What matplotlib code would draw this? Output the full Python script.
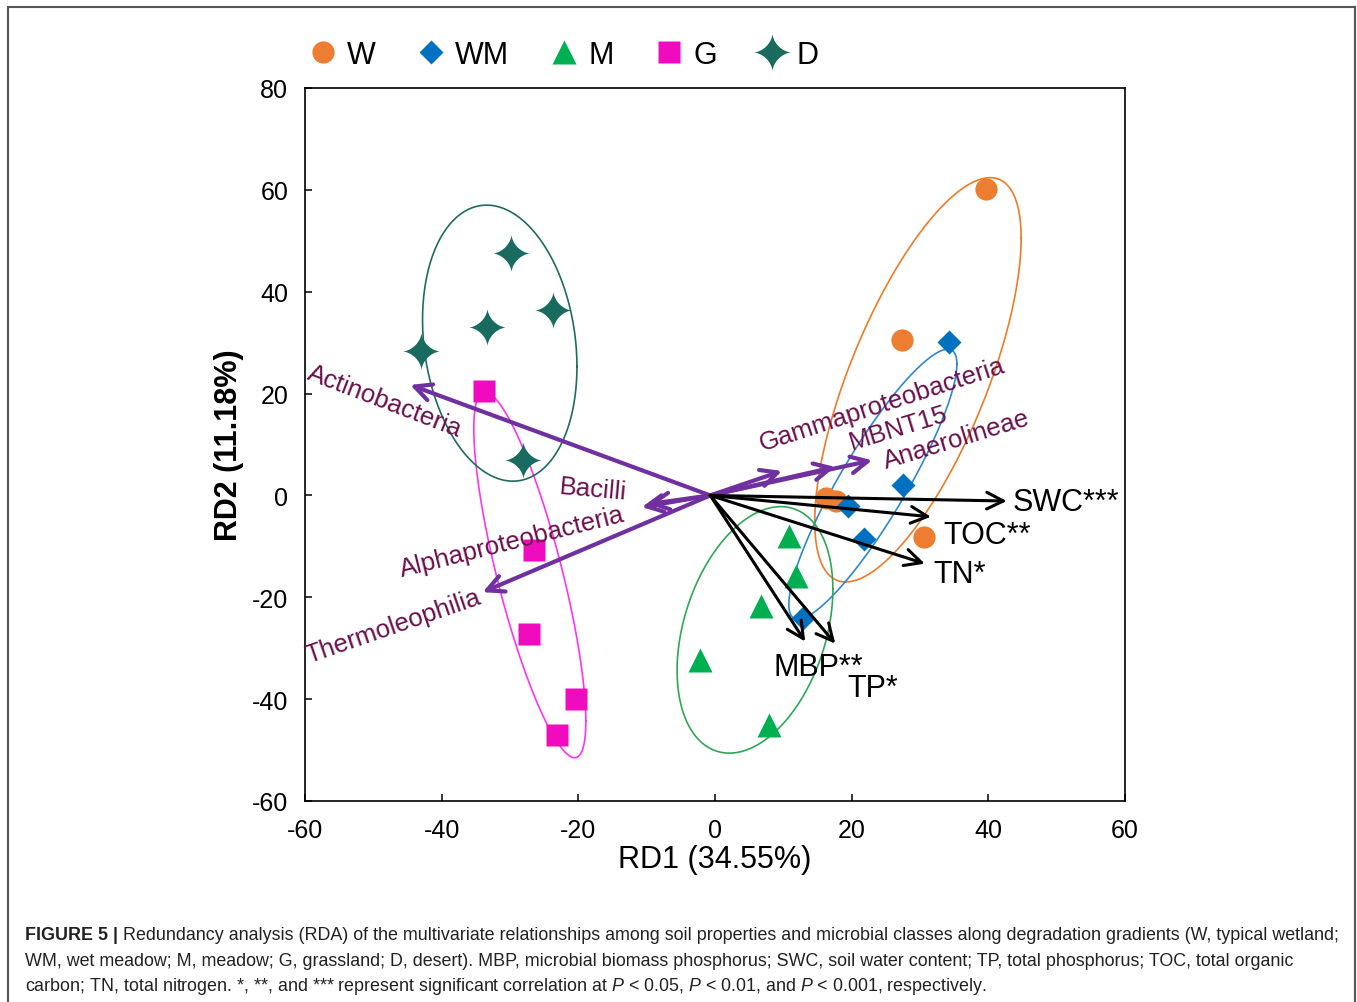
import numpy as np
import matplotlib.pyplot as plt
from matplotlib.path import Path
from matplotlib.patches import FancyArrowPatch, Rectangle
from matplotlib.lines import Line2D

plt.rcParams['font.family'] = ['Liberation Sans', 'DejaVu Sans']
plt.rcParams['mathtext.fontset'] = 'custom'
plt.rcParams['mathtext.rm'] = 'Liberation Sans'
plt.rcParams['mathtext.it'] = 'Liberation Sans:italic'
plt.rcParams['axes.unicode_minus'] = False

# --- sample scores (RD1, RD2) ---
groups = ['W', 'WM', 'M', 'G', 'D']
w_x = [39.7, 27.4, 30.6, 16.2, 17.7]
w_y = [60.2, 30.5, -8.2, -0.5, -1.1]
wm_x = [34.2, 27.5, 19.5, 21.8, 12.9]
wm_y = [30.1, 2.0, -2.1, -8.6, -24.0]
m_x = [10.8, 11.9, 6.7, -2.2, 7.9]
m_y = [-8.0, -15.8, -21.7, -32.3, -45.0]
g_x = [-33.8, -26.5, -27.2, -20.3, -23.1]
g_y = [20.5, -10.7, -27.2, -39.9, -47.0]
d_x = [-29.9, -23.7, -33.4, -43.0, -28.1]
d_y = [47.6, 36.4, 33.1, 28.4, 6.9]

# group ellipses: centre, half extents, correlation (tilt)
ell_cx = [29.7, 23.1, 5.85, -27.1, -31.5]
ell_cy = [22.7, 2.2, -26.4, -15.6, 29.9]
ell_rx = [15.1, 12.3, 11.4, 8.2, 11.3]
ell_ry = [39.7, 26.5, 24.2, 35.9, 27.1]
ell_rho = [0.70, 0.89, 0.33, -0.80, -0.17]

# environmental vectors
soil_names = ['SWC***', 'TOC**', 'TN*', 'MBP**', 'TP*']
soil_x = [42.7, 31.6, 30.7, 13.2, 17.6]
soil_y = [-1.1, -4.2, -13.4, -28.7, -29.1]

# microbial class vectors
class_names = ['Actinobacteria', 'Bacilli', 'Alphaproteobacteria', 'Thermoleophilia',
               'Gammaproteobacteria', 'MBNT15', 'Anaerolineae']
class_x = [-44.6, -10.7, -9.8, -34.0, 9.8, 17.6, 23.0]
class_y = [21.7, -2.3, -1.7, -19.0, 4.8, 5.6, 6.9]
origin = (-0.7, 0.0)

# label placement
soil_lab_pos = [(43.6, -2.9), (33.4, -9.3), (31.9, -17.0), (8.5, -35.3), (19.3, -39.3)]
class_lab_pos = [(-48.3, 18.5), (-17.9, 1.3), (-29.7, -9.1), (-47.1, -25.6),
                 (24.4, 17.9), (26.9, 13.4), (35.4, 11.1)]
class_lab_rot = [-21, -5, 14, 19, 18, 17, 17]

W, H = 1357, 1003
fig = plt.figure(figsize=(W / 100, H / 100), dpi=100)
ax = fig.add_axes([305 / W, 1 - 802 / H, 820 / W, 713 / H])

# 4-point star marker
tt = np.linspace(0, 2 * np.pi, 120)
p = 3.2
star = Path(np.column_stack([np.sign(np.cos(tt)) * np.abs(np.cos(tt)) ** p,
                             np.sign(np.sin(tt)) * np.abs(np.sin(tt)) ** p]))

pts_x = [w_x, wm_x, m_x, g_x, d_x]
pts_y = [w_y, wm_y, m_y, g_y, d_y]
markers = ['o', 'D', '^', 's', star]
msizes = [16, 12, 17, 16, 27]
colors = ['#ED7D31', '#0070C0', '#00B050', '#F00CBE', '#186B5E']
ell_colors = ['#F07A25', '#2E88D0', '#2EA855', '#FF33F0', '#1F6B62']

t = np.linspace(0, 2 * np.pi, 300)
for i in range(len(groups)):
    ex = ell_cx[i] + ell_rx[i] * np.cos(t)
    ey = ell_cy[i] + ell_ry[i] * (ell_rho[i] * np.cos(t) + np.sqrt(1 - ell_rho[i] ** 2) * np.sin(t))
    ax.plot(ex, ey, color=ell_colors[i], lw=1.2, zorder=2)
    ax.plot(pts_x[i], pts_y[i], ls='none', marker=markers[i], ms=msizes[i],
            color=colors[i], mec='none', zorder=3)

for i in range(len(class_names)):
    ax.add_patch(FancyArrowPatch(origin, (class_x[i], class_y[i]),
                                 arrowstyle='->,head_length=0.6,head_width=0.3',
                                 mutation_scale=20, lw=3, color='#7030A0',
                                 shrinkA=0, shrinkB=0, zorder=4))
    ax.text(class_lab_pos[i][0], class_lab_pos[i][1], class_names[i], rotation=class_lab_rot[i],
            rotation_mode='anchor', ha='center', va='center', fontsize=18.5,
            color='#6A0F4B', zorder=6)

for i in range(len(soil_names)):
    ax.add_patch(FancyArrowPatch(origin, (soil_x[i], soil_y[i]),
                                 arrowstyle='->,head_length=0.6,head_width=0.3',
                                 mutation_scale=20, lw=2.2, color='black',
                                 shrinkA=0, shrinkB=0, zorder=5))
    ax.text(soil_lab_pos[i][0], soil_lab_pos[i][1], soil_names[i], ha='left',
            va='baseline', fontsize=22, zorder=6)

ax.set_xlim(-60, 60)
ax.set_ylim(-60, 80)
ax.set_xticks(range(-60, 61, 20))
ax.set_yticks(range(-60, 81, 20))
ax.tick_params(direction='in', length=5, width=1.1, labelsize=18, pad=12)
for s in ax.spines.values():
    s.set_linewidth(1.2)
ax.set_xlabel('RD1 (34.55%)', fontsize=22, labelpad=2)
ax.set_ylabel('RD2 (11.18%)', fontsize=22, fontweight='bold', labelpad=6)

handles = [Line2D([], [], ls='none', marker=markers[i], ms=msizes[i], color=colors[i], mec='none')
           for i in range(len(groups))]
fig.legend(handles, groups, loc='center', bbox_to_anchor=(563 / W, 1 - 56 / H), ncol=5,
           frameon=False, fontsize=22, handlelength=1.0, handletextpad=0.3, columnspacing=1.3)

# outer frame
fig.add_artist(Rectangle((8 / W, -0.02), 1347 / W, 1.02 - 8 / H, transform=fig.transFigure,
                         fill=False, ec='#555555', lw=1.5))

# caption
line1 = ' Redundancy analysis (RDA) of the multivariate relationships among soil properties and microbial classes along degradation gradients (W, typical wetland;'
line2 = 'WM, wet meadow; M, meadow; G, grassland; D, desert). MBP, microbial biomass phosphorus; SWC, soil water content; TP, total phosphorus; TOC, total organic'
line3 = (r'carbon; TN, total nitrogen. *, **, and *** represent significant correlation at '
         r'$\mathit{P}$ < 0.05, $\mathit{P}$ < 0.01, and $\mathit{P}$ < 0.001, respectively.')
fs = 13
cc = '#222222'
b = fig.text(25 / W, 1 - 940 / H, 'FIGURE 5 |', fontweight='bold', fontsize=fs, va='baseline', color=cc)
r1 = fig.text(0, 0, line1, fontsize=fs, va='baseline', color=cc)
r2 = fig.text(25 / W, 1 - 966 / H, line2, fontsize=fs, va='baseline', color=cc)
r3 = fig.text(25 / W, 1 - 991 / H, line3, fontsize=fs, va='baseline', color=cc)
fig.canvas.draw()
rend = fig.canvas.get_renderer()
wid = b.get_window_extent(rend).width + r1.get_window_extent(rend).width
fs = fs * 1313 / wid
for tx in (b, r1, r2, r3):
    tx.set_fontsize(fs)
fig.canvas.draw()
bx = b.get_window_extent(rend)
r1.set_position((bx.x1 / W, 1 - 940 / H))

fig.savefig('out.png', dpi=100)
